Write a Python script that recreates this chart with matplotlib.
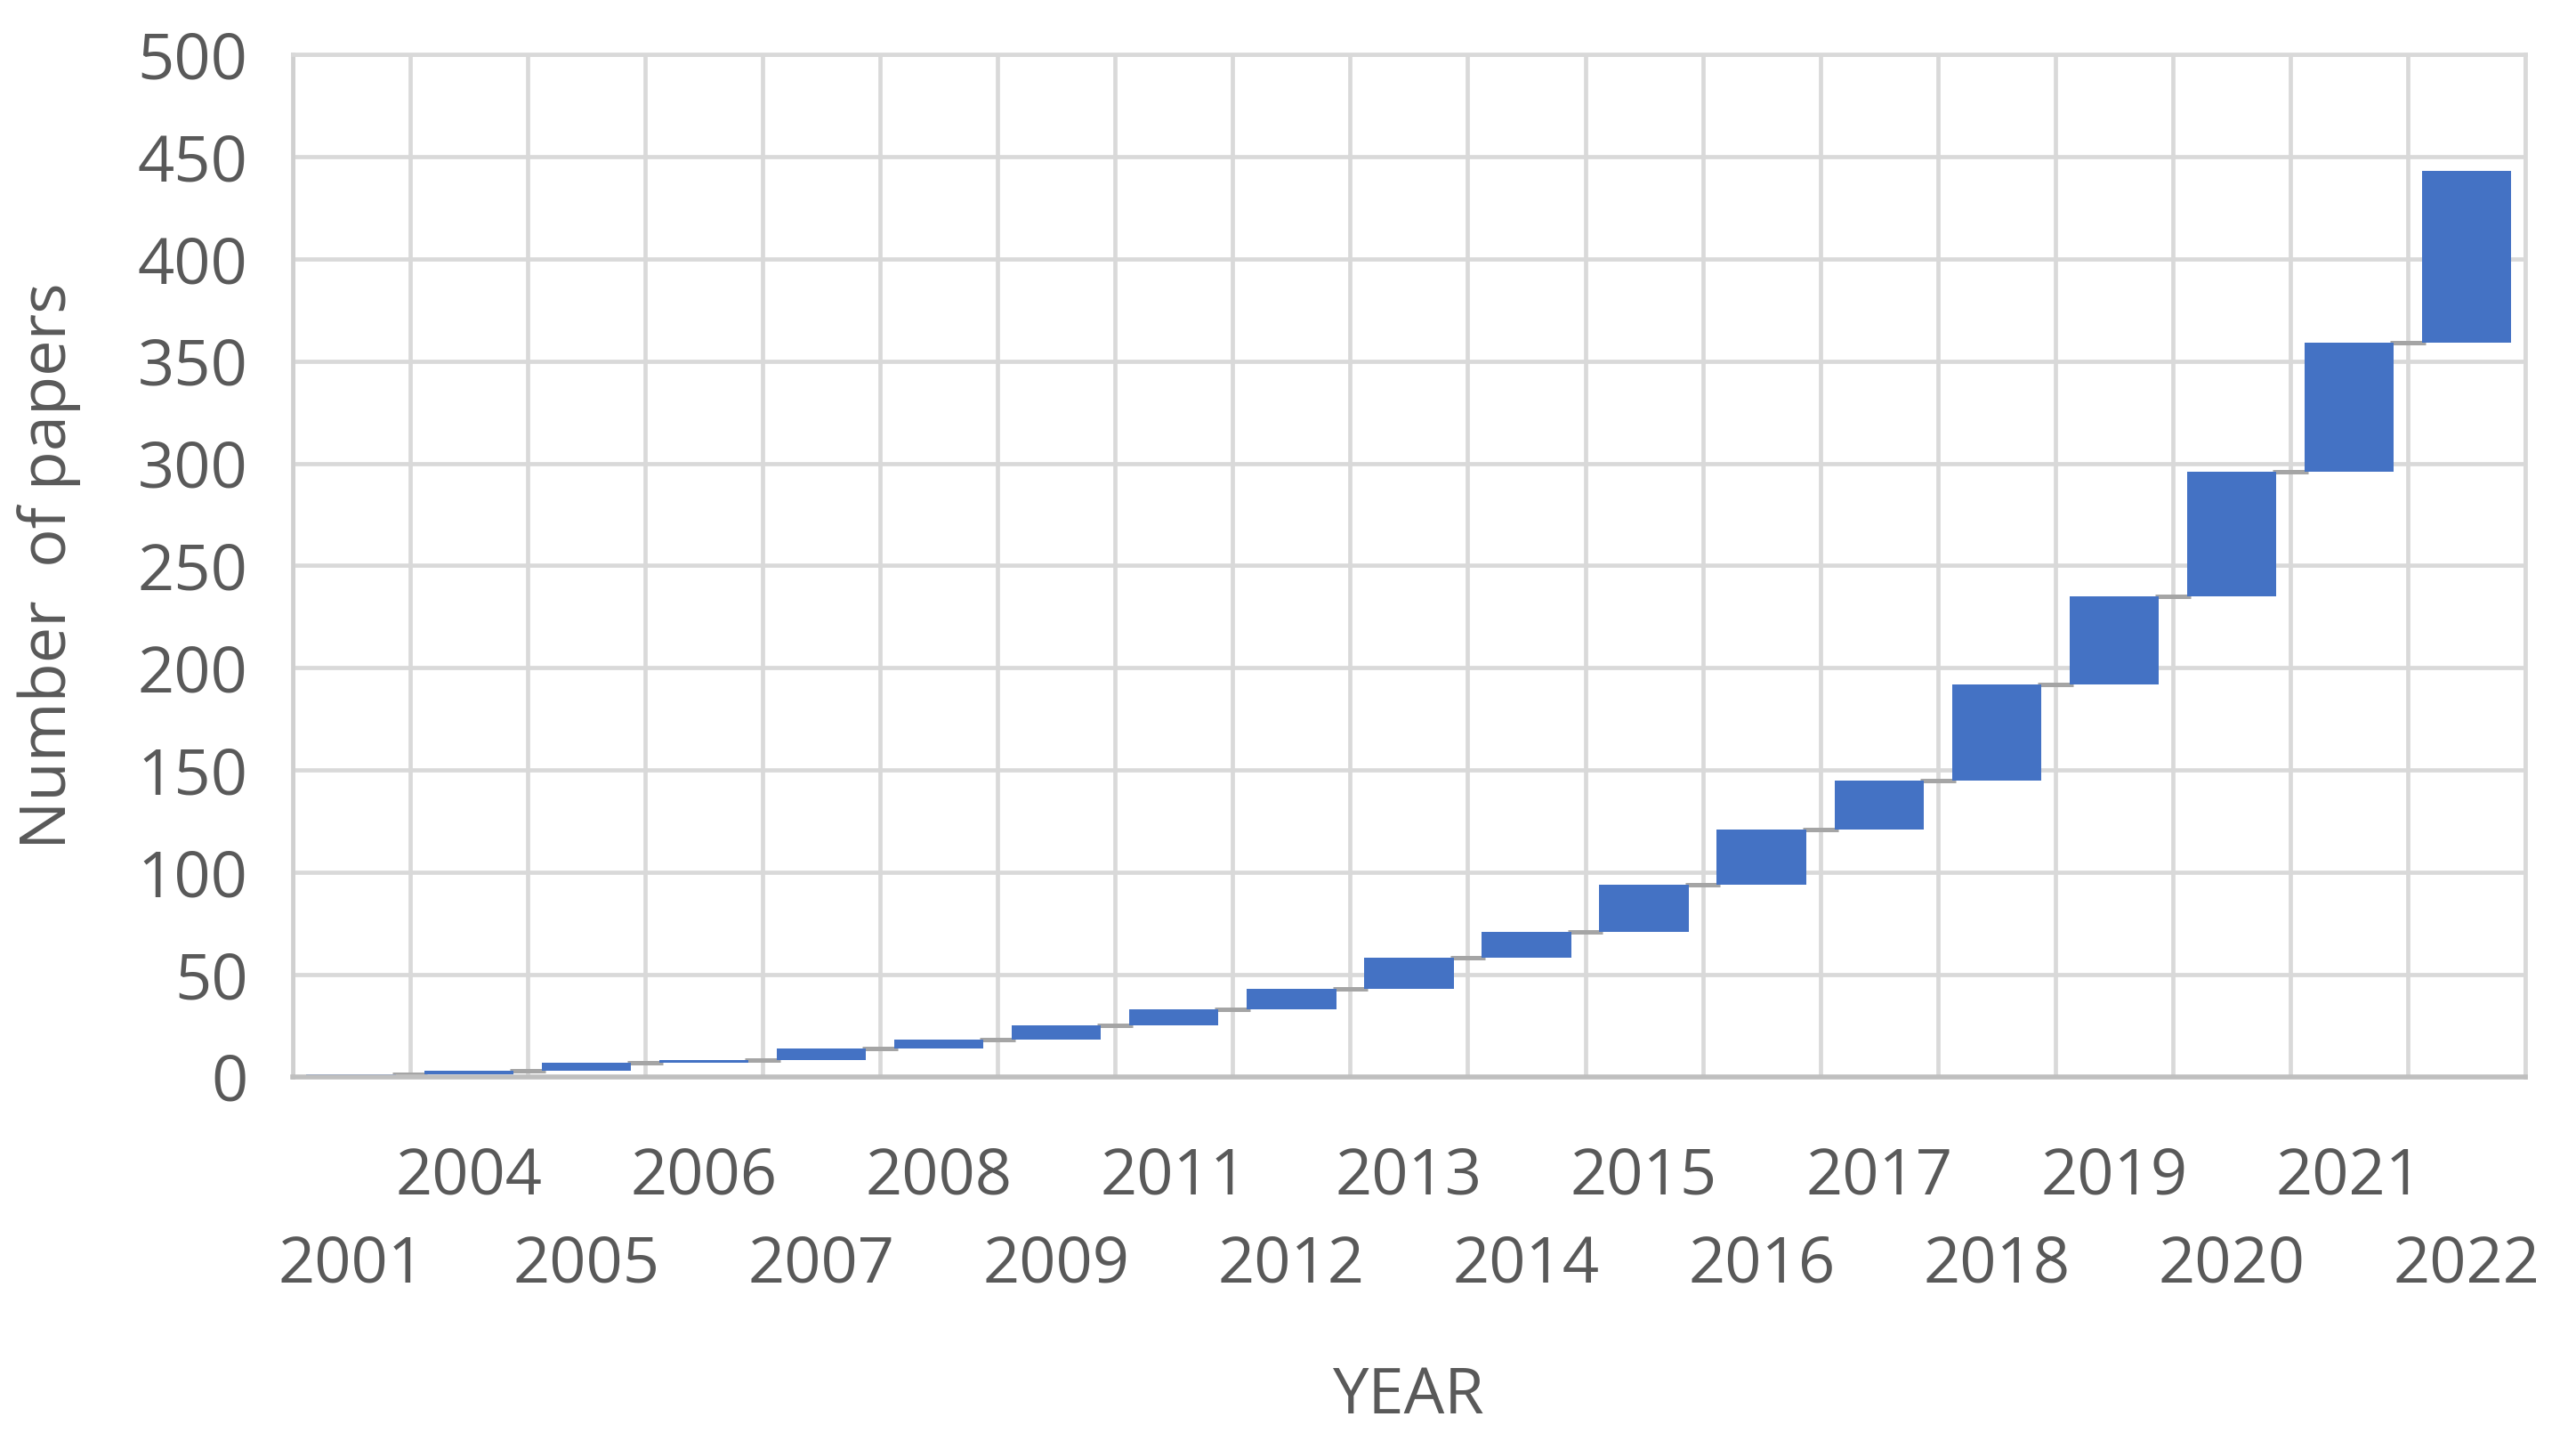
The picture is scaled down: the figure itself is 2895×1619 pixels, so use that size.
import numpy as np
import matplotlib
matplotlib.use("Agg")
import matplotlib.pyplot as plt

# papers per year (waterfall steps)
years = ["2001", "2004", "2005", "2006", "2007", "2008", "2009", "2011", "2012", "2013",
         "2014", "2015", "2016", "2017", "2018", "2019", "2020", "2021", "2022"]
new_papers = [1, 2, 4, 1, 6, 4, 7, 8, 10, 15, 13, 23, 27, 24, 47, 43, 61, 63, 84]

y_ticks = [0, 50, 100, 150, 200, 250, 300, 350, 400, 450, 500]

plt.rcParams['font.family'] = ['Open Sans', 'DejaVu Sans']

bar_color = '#4472C4'
link_color = '#A5A5A5'
grid_color = '#D9D9D9'
text_color = '#595959'

new_papers = np.array(new_papers)
total = np.cumsum(new_papers)
start = total - new_papers
x = np.arange(len(years))
w = 0.76

fig = plt.figure(figsize=(28.95, 16.19), dpi=100)
ax = fig.add_axes([0.1135, 0.2528, 0.9804 - 0.1135, 0.9623 - 0.2528])

ax.bar(x, new_papers, bottom=start, width=w, color=bar_color, zorder=3)

# connector lines between bars
ax.hlines(total[:-1], x[:-1] + w / 2 - 0.03, x[1:] - w / 2 + 0.03,
          color=link_color, linewidth=3.6, zorder=2)

ax.set_xlim(-0.5, len(years) - 0.5)
ax.set_ylim(0, 500)
ax.set_yticks(y_ticks)
ax.set_xticks(x)
ax.set_xticklabels([])
ax.set_xticks(np.arange(len(years) + 1) - 0.5, minor=True)
ax.grid(True, which='minor', axis='x', color=grid_color, linewidth=3.4)
ax.grid(True, which='major', axis='y', color=grid_color, linewidth=3.4)
ax.set_axisbelow(True)
ax.tick_params(axis='both', which='both', length=0)
ax.tick_params(axis='y', labelsize=52, labelcolor=text_color, pad=36)

for side in ['top', 'right']:
    ax.spines[side].set_color(grid_color)
    ax.spines[side].set_linewidth(3.4)
ax.spines['left'].set_color('#D0D0D0')
ax.spines['left'].set_linewidth(3.4)
ax.spines['bottom'].set_color('#BFBFBF')
ax.spines['bottom'].set_linewidth(4)
ax.spines['bottom'].set_zorder(4)

# staggered year labels: odd positions on the upper row
for i, yr in enumerate(years):
    yy = -0.098 if i % 2 == 1 else -0.185
    ax.text(i, yy, yr, transform=ax.get_xaxis_transform(), ha='center', va='center',
            fontsize=52, color=text_color)

ax.set_xlabel('YEAR', fontsize=52, color=text_color)
ax.xaxis.set_label_coords(0.5, -0.313)
ax.xaxis.label.set_verticalalignment('center')
ax.set_ylabel('Number  of papers', fontsize=52, color=text_color)
ax.yaxis.set_label_coords(-0.109, 0.5)
ax.yaxis.label.set_verticalalignment('center')

fig.savefig('out.png', dpi=100, facecolor='white')
